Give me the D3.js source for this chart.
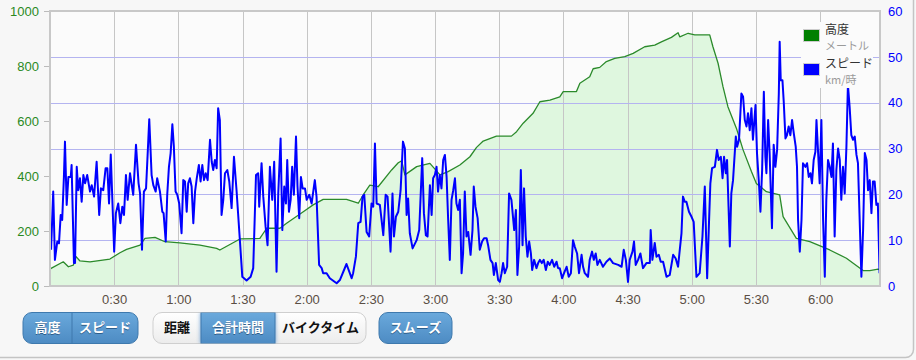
<!DOCTYPE html>
<html>
<head>
<meta charset="utf-8">
<script src="https://cdn.jsdelivr.net/npm/d3@7"></script>
<style>
  html, body { margin: 0; padding: 0; background: #f7f7f7; }
  svg { display: block; }
</style>
</head>
<body>
<div id="chart"></div>
<script>
// altitude (m) : [minutes, metres]
const altitudeData = [
  [0,60],[0.5,64],[6.2,88],[8.6,70],[10.9,76],[12.2,107],[14.0,91],[18.7,88],[28.0,98],
  [32.7,121],[35.8,133],[42.1,149],[44.4,173],[49.1,177],[53.7,161],[60.7,157],[70.1,149],
  [77.9,137],[79.4,131],[88.8,171],[98.1,173],[101.3,210],[107.5,210],[110.6,228],[118.4,270],
  [123.0,295],[127.7,315],[138.6,315],[144.1,301],[146.4,331],[149.5,367],[153.4,361],
  [159.7,422],[162.8,448],[164.4,455],[165.9,404],[171.4,434],[177.6,446],[182.3,404],
  [186.1,416],[191.6,440],[196.3,470],[199.4,504],[202.5,527],[208.7,545],[215.7,545],
  [218.1,561],[221.2,592],[225.8,628],[229.0,670],[233.7,676],[238.3,688],[239.9,707],
  [246.1,707],[247.7,737],[252.3,761],[253.9,790],[257.0,795],[260.1,816],[264.0,828],
  [268.7,834],[272.6,846],[278.0,870],[282.7,876],[285.8,888],[290.5,904],[293.6,921],
  [294.4,906],[298.3,919],[301.4,913],[308.4,913],[309.9,870],[312.3,810],[314.6,725],
  [316.9,652],[320.9,573],[324.0,495],[327.9,416],[330.2,373],[334.9,343],[341.1,331],
  [342.7,252],[348.9,173],[355.2,161],[364.5,131],[372.3,101],[380.1,56],[383.2,56],
  [387.1,61],[387.9,60]
];

// speed (km/h) : [minutes, km/h]
const speedData = [
  [0.5,7.9],[1.5,20.6],[2.3,5.7],[3.4,9.7],[4.2,9.3],[5.0,15.5],[5.7,14.4],[6.5,23.8],[7.0,31.5],
  [7.8,17.7],[8.6,23.8],[9.7,23.8],[10.1,26.4],[11.2,5.0],[11.7,5.0],[12.5,26.0],[13.2,20.9],
  [14.0,23.5],[14.8,18.4],[15.6,24.2],[16.4,22.4],[17.4,24.2],[18.7,20.6],[19.5,22.0],[20.6,19.5],
  [21.8,27.1],[23.0,15.5],[23.8,21.3],[24.9,20.9],[26.0,25.7],[26.8,25.7],[27.6,18.0],[28.4,28.7],
  [30.0,7.5],[30.8,15.9],[31.9,18.0],[32.9,13.7],[33.8,17.3],[34.6,15.5],[35.5,24.2],[36.3,18.8],
  [37.4,24.6],[38.2,22.0],[38.9,19.9],[40.2,30.8],[41.4,22.4],[42.1,20.2],[43.0,7.9],[43.9,20.6],
  [44.9,21.3],[45.7,29.3],[46.4,36.4],[47.5,24.2],[48.3,22.0],[49.4,20.6],[50.1,23.5],[51.4,20.6],
  [52.5,16.2],[53.1,15.9],[54.1,9.7],[54.8,19.9],[55.6,26.0],[56.4,29.0],[57.2,35.3],[57.9,30.4],
  [58.7,20.6],[59.5,19.9],[60.4,18.0],[61.5,11.5],[62.3,23.1],[63.1,22.8],[63.9,16.2],[64.6,22.4],
  [65.4,23.5],[66.2,21.7],[67.0,13.7],[67.8,20.6],[68.6,23.5],[69.6,26.4],[70.4,22.8],[71.2,26.4],
  [72.0,23.1],[72.8,24.6],[73.7,23.1],[74.8,31.9],[75.6,27.1],[76.3,25.3],[77.1,27.5],[77.9,25.7],
  [78.6,38.8],[79.4,36.2],[80.2,15.5],[81.0,18.8],[81.8,24.6],[82.9,25.3],[83.8,22.8],[84.9,17.0],
  [86.0,28.2],[87.2,20.9],[88.8,9.7],[89.9,2.0],[91.9,1.2],[93.8,2.0],[95.0,3.9],[96.3,24.2],
  [97.3,24.6],[97.8,17.3],[98.9,26.8],[99.7,19.5],[100.8,12.9],[101.7,8.9],[102.8,26.0],[103.9,18.8],
  [104.8,27.1],[105.9,3.1],[106.7,20.2],[107.8,32.2],[108.6,12.2],[109.5,21.7],[110.3,18.0],
  [110.9,27.5],[111.7,16.2],[112.5,18.8],[113.2,26.0],[114.0,19.9],[115.0,32.6],[115.7,21.7],
  [116.5,14.8],[117.3,23.8],[118.1,21.3],[119.2,21.3],[120.0,18.8],[121.2,19.9],[122.3,18.0],
  [123.8,23.1],[124.6,19.5],[125.8,4.6],[127.0,3.9],[127.7,2.8],[129.3,2.8],[130.8,1.7],[134.0,0.6],
  [135.5,1.3],[138.6,4.8],[141.0,1.7],[141.7,2.8],[143.0,6.4],[144.1,13.7],[145.2,14.0],[146.1,19.5],
  [146.9,19.9],[148.0,11.8],[149.2,10.8],[150.3,18.0],[151.1,17.3],[151.9,31.1],[152.7,18.0],
  [154.2,17.7],[155.8,11.1],[156.9,19.9],[157.8,19.5],[159.2,7.5],[160.1,20.2],[160.8,10.8],
  [161.7,15.1],[162.8,16.2],[163.9,20.9],[165.0,31.5],[165.9,30.0],[166.7,15.5],[167.4,19.1],
  [168.2,11.5],[169.5,8.2],[171.4,10.0],[172.6,12.2],[174.0,27.9],[174.8,15.9],[175.7,11.1],
  [176.5,10.8],[177.6,22.0],[178.4,15.5],[179.1,23.5],[179.9,24.2],[180.7,26.0],[181.4,20.6],
  [182.2,24.2],[183.0,21.3],[183.8,27.5],[184.6,28.6],[185.4,23.8],[186.1,14.8],[186.9,5.7],
  [187.7,18.8],[188.5,20.9],[189.3,23.5],[190.0,18.0],[190.8,16.6],[191.6,18.8],[192.4,2.8],
  [193.1,7.1],[193.9,20.6],[194.7,10.8],[195.5,11.8],[196.6,6.8],[197.5,12.2],[198.1,21.7],
  [198.9,17.3],[199.9,14.8],[200.9,7.9],[202.0,9.7],[202.9,10.4],[204.1,10.4],[204.8,8.9],
  [205.9,5.7],[206.9,5.0],[207.5,2.4],[208.4,5.0],[209.5,1.3],[210.3,0.9],[211.1,2.8],[211.8,5.0],
  [212.6,2.8],[213.7,4.2],[214.6,20.2],[215.7,18.8],[217.0,12.2],[217.8,16.6],[218.5,2.4],
  [219.3,8.6],[220.1,25.3],[220.9,8.9],[221.6,21.3],[222.4,10.8],[223.2,6.4],[224.0,9.7],[224.8,7.1],
  [225.4,3.5],[226.3,5.7],[227.4,3.9],[228.2,5.0],[229.0,5.7],[229.9,5.0],[230.8,5.7],[231.8,3.5],
  [232.7,5.3],[233.6,4.6],[234.7,5.7],[235.7,4.2],[236.8,5.3],[237.5,3.9],[238.3,3.9],[239.4,1.7],
  [240.3,2.8],[241.5,4.2],[242.5,2.0],[243.5,2.8],[244.5,10.0],[245.3,8.6],[246.4,7.1],[247.3,2.8],
  [248.5,6.8],[249.2,4.2],[250.0,2.8],[250.8,2.4],[251.5,2.0],[252.3,5.7],[253.4,7.5],[254.2,5.7],
  [255.1,7.1],[255.9,4.6],[257.0,5.7],[258.5,4.2],[260.1,5.3],[261.7,6.0],[263.2,5.0],[265.6,4.6],
  [267.2,4.2],[268.2,7.9],[269.2,5.7],[270.2,0.9],[271.0,5.7],[272.3,7.5],[273.0,9.7],[273.8,4.6],
  [274.9,5.7],[276.0,7.1],[277.2,3.9],[278.8,5.0],[280.4,5.0],[280.8,12.2],[281.6,5.7],[282.7,9.4],
  [283.5,6.4],[284.6,6.8],[285.5,5.3],[286.6,5.3],[288.2,2.0],[289.7,2.4],[291.3,6.8],[292.5,6.0],
  [293.6,4.2],[294.4,7.9],[295.2,11.5],[295.9,19.5],[296.7,18.4],[297.5,18.4],[298.7,16.2],
  [299.9,15.1],[300.9,14.0],[302.2,2.0],[303.7,2.8],[305.0,10.8],[306.1,21.7],[307.2,1.7],
  [308.1,14.4],[308.7,22.4],[309.5,25.7],[310.8,26.0],[311.8,29.7],[312.6,27.5],[313.6,28.2],
  [314.4,23.5],[315.1,28.2],[315.9,24.6],[316.5,27.5],[317.2,17.3],[317.8,8.6],[318.5,20.2],
  [319.3,23.1],[319.8,26.8],[320.6,32.6],[321.2,30.4],[322.1,31.9],[323.2,42.0],[324.0,41.3],
  [324.8,36.2],[325.6,34.8],[326.3,37.7],[327.1,34.0],[327.9,38.8],[328.6,31.9],[329.8,39.5],
  [330.5,29.0],[331.5,21.7],[332.1,16.2],[332.9,25.3],[333.7,42.4],[334.4,28.2],[334.9,24.6],
  [335.7,36.2],[336.4,29.0],[337.5,12.6],[338.3,30.8],[339.1,26.0],[339.9,29.7],[340.7,42.0],
  [341.1,53.3],[341.6,44.9],[342.4,44.9],[343.0,40.2],[343.8,32.2],[344.5,32.9],[345.3,34.8],
  [346.1,32.9],[346.9,36.2],[347.7,33.3],[348.6,30.4],[349.2,26.0],[349.7,14.4],[350.5,7.5],
  [351.3,14.4],[352.0,26.8],[353.1,26.0],[353.9,26.8],[354.7,23.8],[355.5,24.6],[356.2,22.4],
  [357.0,27.5],[357.8,29.3],[358.3,36.2],[359.0,29.7],[359.8,22.4],[360.6,36.2],[361.4,14.4],
  [362.2,2.0],[362.9,18.8],[363.7,27.5],[364.5,26.0],[365.3,23.8],[366.0,31.1],[366.8,10.8],
  [367.6,25.3],[368.4,30.0],[369.2,27.5],[369.9,18.8],[370.7,26.0],[371.5,20.2],[372.3,30.4],
  [373.0,43.9],[373.8,39.1],[374.6,32.9],[375.4,31.9],[376.2,32.6],[377.0,28.6],[377.7,26.8],
  [379.3,2.0],[380.1,12.2],[380.9,29.0],[381.7,27.5],[382.4,20.9],[383.2,23.1],[384.0,15.9],
  [384.7,22.8],[385.5,22.8],[386.3,17.7],[387.0,18.0],[387.8,2.8]
];

const timeTicks = [30, 60, 90, 120, 150, 180, 210, 240, 270, 300, 330, 360]; // minutes
const altitudeTicks = [0, 200, 400, 600, 800, 1000];
const speedTicks = [0, 10, 20, 30, 40, 50, 60];
const legendItems = [
  { label: "高度", unit: "メートル", color: "#008000" },
  { label: "スピード", unit: "km/時", color: "#0000ff" }
];
const buttonGroups = [
  [{ label: "高度", on: true }, { label: "スピード", on: true }],
  [{ label: "距離", on: false }, { label: "合計時間", on: true }, { label: "バイクタイム", on: false }],
  [{ label: "スムーズ", on: true }]
];

(function(d3) {
  const W = 916, H = 360;
  const plot = { left: 50, right: 880, top: 11, bottom: 286 };
  const latin = "'Liberation Sans', Arial, sans-serif";
  const cjk = "'Noto Sans CJK JP', 'Liberation Sans', sans-serif";

  const svg = d3.select("#chart").append("svg")
    .attr("width", W).attr("height", H);

  const defs = svg.append("defs");
  const blueGrad = defs.append("linearGradient").attr("id", "blueGrad")
    .attr("x1", 0).attr("y1", 0).attr("x2", 0).attr("y2", 1);
  blueGrad.append("stop").attr("offset", 0).attr("stop-color", "#6aa9dc");
  blueGrad.append("stop").attr("offset", 1).attr("stop-color", "#4d8bc3");
  const greyGrad = defs.append("linearGradient").attr("id", "greyGrad")
    .attr("x1", 0).attr("y1", 0).attr("x2", 0).attr("y2", 1);
  greyGrad.append("stop").attr("offset", 0).attr("stop-color", "#ffffff");
  greyGrad.append("stop").attr("offset", 1).attr("stop-color", "#ececec");

  // panel card
  svg.append("rect")
    .attr("x", -10).attr("y", -10)
    .attr("width", W - 2 + 10 - 0.5).attr("height", H - 2 + 10 - 0.5)
    .attr("rx", 8)
    .attr("fill", "#f7f7f7").attr("stroke", "#c4c4c4").attr("stroke-width", 1.5);

  // scales
  const x = d3.scaleLinear().domain([0, 388]).range([plot.left, plot.right]);
  const yAlt = d3.scaleLinear().domain([0, 1000]).range([plot.bottom, plot.top]);
  const ySpeed = d3.scaleLinear().domain([0, 60]).range([plot.bottom, plot.top]);

  // plot background
  svg.append("rect")
    .attr("x", plot.left).attr("y", plot.top)
    .attr("width", plot.right - plot.left).attr("height", plot.bottom - plot.top)
    .attr("fill", "#fbfbfb");

  // altitude area fill
  const area = d3.area()
    .x(d => x(d[0]))
    .y0(plot.bottom)
    .y1(d => yAlt(d[1]));
  svg.append("path").datum(altitudeData)
    .attr("d", area)
    .attr("fill", "#dff7df");

  // grid : vertical (time) grey, horizontal (speed) blue
  svg.append("g").selectAll("line")
    .data(timeTicks).enter().append("line")
    .attr("x1", d => Math.round(x(d)) + 0.5).attr("x2", d => Math.round(x(d)) + 0.5)
    .attr("y1", plot.top).attr("y2", plot.bottom)
    .attr("stroke", "#c6c6c6").attr("stroke-width", 1);
  svg.append("g").selectAll("line")
    .data(speedTicks.slice(1, -1)).enter().append("line")
    .attr("x1", plot.left).attr("x2", plot.right)
    .attr("y1", d => Math.round(ySpeed(d)) + 0.5).attr("y2", d => Math.round(ySpeed(d)) + 0.5)
    .attr("stroke", "#b4b4f0").attr("stroke-width", 1);

  // altitude line
  const altLine = d3.line().x(d => x(d[0])).y(d => yAlt(d[1]));
  svg.append("path").datum(altitudeData)
    .attr("d", altLine)
    .attr("fill", "none").attr("stroke", "#2b8a2b").attr("stroke-width", 1.3)
    .attr("stroke-linejoin", "round");

  // speed line
  const speedLine = d3.line().x(d => x(d[0])).y(d => ySpeed(d[1]));
  svg.append("path").datum(speedData)
    .attr("d", speedLine)
    .attr("fill", "none").attr("stroke", "#0000ff").attr("stroke-width", 2)
    .attr("stroke-linejoin", "round");

  // plot border
  svg.append("rect")
    .attr("x", plot.left).attr("y", plot.top)
    .attr("width", plot.right - plot.left).attr("height", plot.bottom - plot.top)
    .attr("fill", "none").attr("stroke", "#c8c8c8").attr("stroke-width", 2);

  // left axis (altitude)
  const leftAxis = svg.append("g")
    .attr("transform", "translate(" + (plot.left - 1) + ",0)")
    .call(d3.axisLeft(yAlt).tickValues(altitudeTicks).tickFormat(d3.format("d"))
      .tickSize(5).tickPadding(5));
  leftAxis.select(".domain").remove();
  leftAxis.selectAll(".tick line").attr("stroke", "#bbbbbb");
  leftAxis.selectAll(".tick text")
    .attr("fill", "#2a8a1e").style("font-family", latin).style("font-size", "13px");

  // right axis (speed)
  const rightAxis = svg.append("g")
    .attr("transform", "translate(" + (plot.right + 1) + ",0)")
    .call(d3.axisRight(ySpeed).tickValues(speedTicks).tickSize(0).tickPadding(7));
  rightAxis.select(".domain").remove();
  rightAxis.selectAll(".tick text")
    .attr("fill", "#0000ff").style("font-family", latin).style("font-size", "13px");

  // bottom axis (time)
  const fmt = m => Math.floor(m / 60) + ":" + d3.format("02")(m % 60);
  const bottomAxis = svg.append("g")
    .attr("transform", "translate(0," + plot.bottom + ")")
    .call(d3.axisBottom(x).tickValues(timeTicks).tickFormat(fmt).tickSize(0).tickPadding(9));
  bottomAxis.select(".domain").remove();
  bottomAxis.selectAll(".tick text")
    .attr("fill", "#5a4e44").style("font-family", latin).style("font-size", "13px");

  // legend
  const legend = svg.append("g").attr("transform", "translate(801,22)");
  legend.append("rect").attr("x", 0).attr("y", 0).attr("width", 72).attr("height", 66)
    .attr("fill", "#fbfbfb");
  legendItems.forEach((item, i) => {
    const g = legend.append("g").attr("transform", "translate(0," + i * 34 + ")");
    g.append("rect").attr("x", 2.5).attr("y", 7.5).attr("width", 16).attr("height", 12)
      .attr("fill", item.color).attr("stroke", "#cccccc").attr("stroke-width", 1);
    g.append("text").attr("x", 24).attr("y", 11.5)
      .attr("fill", "#333").style("font-family", cjk).style("font-size", "12px")
      .text(item.label);
    g.append("text").attr("x", 24).attr("y", 27.5)
      .attr("fill", "#9a9a9a").style("font-family", cjk).style("font-size", "11px")
      .text(item.unit);
  });

  // buttons
  const groupBoxes = [
    { x0: 23, x1: 138, cuts: [72] },
    { x0: 153, x1: 366, cuts: [201, 275] },
    { x0: 379, x1: 452, cuts: [] }
  ];
  const by0 = 312.5, by1 = 343.5;
  buttonGroups.forEach((grp, gi) => {
    const box = groupBoxes[gi];
    const edges = [box.x0].concat(box.cuts, [box.x1]);
    const allOn = grp.every(b => b.on);
    const clipId = "clip" + gi;
    defs.append("clipPath").attr("id", clipId)
      .append("rect").attr("x", box.x0).attr("y", by0)
      .attr("width", box.x1 - box.x0).attr("height", by1 - by0).attr("rx", 9);
    const g = svg.append("g");
    g.append("rect").attr("x", box.x0).attr("y", by0)
      .attr("width", box.x1 - box.x0).attr("height", by1 - by0).attr("rx", 9)
      .attr("fill", allOn ? "url(#blueGrad)" : "url(#greyGrad)")
      .attr("stroke", allOn ? "#3e79ad" : "#cfcfcf");
    const inner = g.append("g").attr("clip-path", "url(#" + clipId + ")");
    grp.forEach((b, bi) => {
      const a = edges[bi], z = edges[bi + 1];
      if (b.on && !allOn) {
        inner.append("rect").attr("x", a).attr("y", by0)
          .attr("width", z - a).attr("height", by1 - by0)
          .attr("fill", "url(#blueGrad)").attr("stroke", "#3e79ad")
          .style("filter", "drop-shadow(0 0 2px rgba(60,130,200,0.7))");
      }
      if (bi > 0 && allOn) {
        inner.append("line").attr("x1", a).attr("x2", a).attr("y1", by0).attr("y2", by1)
          .attr("stroke", "#3e79ad");
      }
      const cx = (a + z) / 2;
      if (b.on) {
        g.append("text").attr("x", cx).attr("y", 332.5)
          .attr("text-anchor", "middle").attr("fill", "#2d5d8a")
          .style("font-family", cjk).style("font-size", "13px").style("font-weight", "bold")
          .text(b.label);
      }
      g.append("text").attr("x", cx).attr("y", 332)
        .attr("text-anchor", "middle").attr("fill", b.on ? "#ffffff" : "#111111")
        .style("font-family", cjk).style("font-size", "13px").style("font-weight", "bold")
        .text(b.label);
    });
  });
})(d3);
</script>
</body>
</html>
